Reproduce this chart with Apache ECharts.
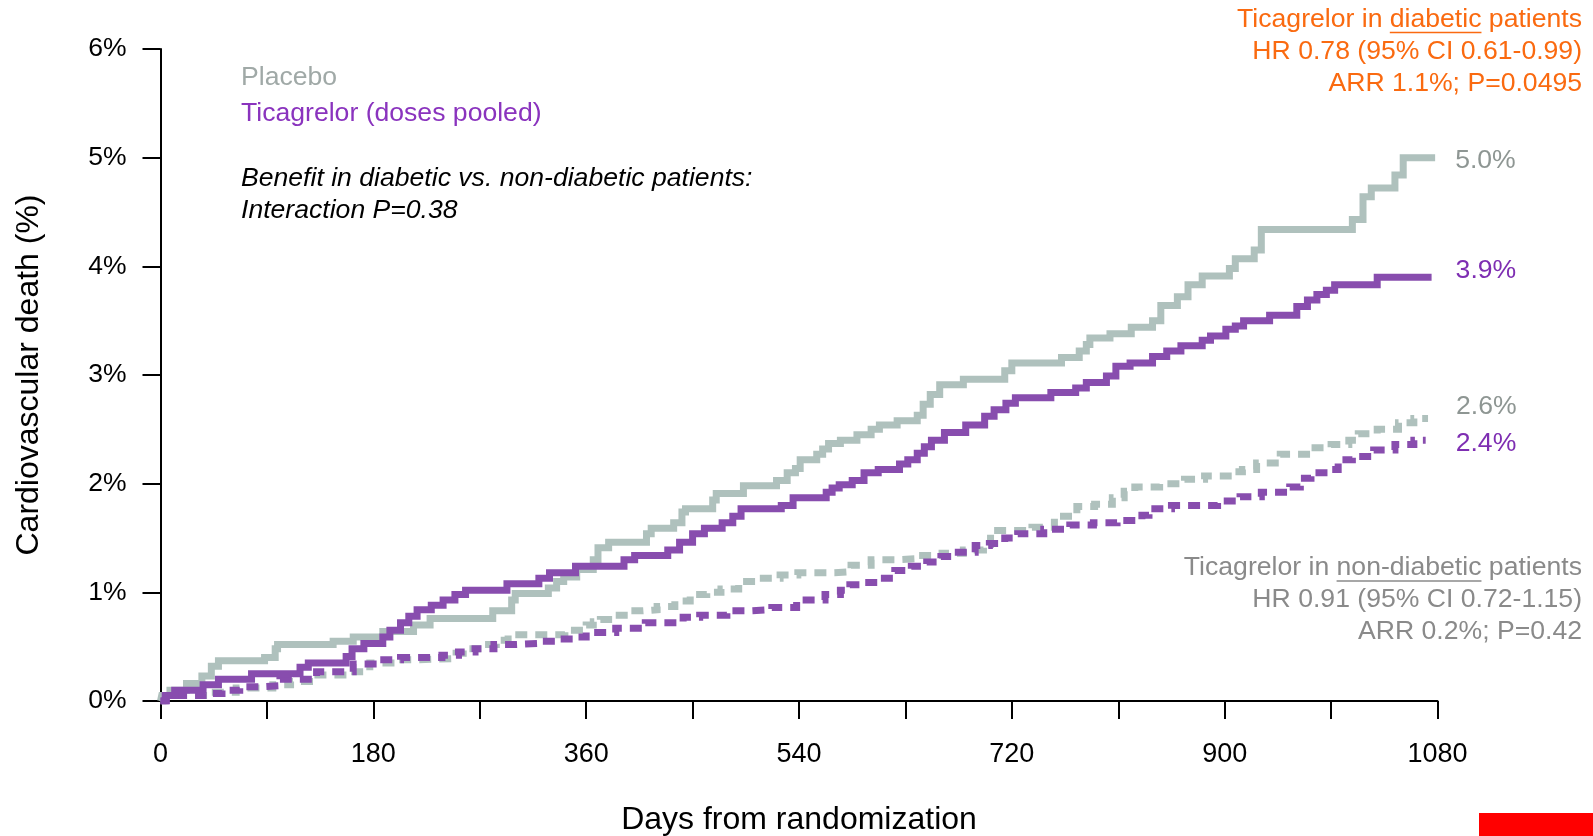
<!DOCTYPE html>
<html>
<head>
<meta charset="utf-8">
<script src="https://cdn.jsdelivr.net/npm/echarts@6/dist/echarts.min.js"></script>
<style>
  html, body { margin: 0; padding: 0; background: #ffffff; }
  #chart { width: 1593px; height: 836px; }
</style>
</head>
<body>
<div id="chart"></div>
<script>
// Cumulative cardiovascular death (%) by days from randomization, step points [day, %]
const placeboDiabetic = [[0,0],[1,0.05],[8,0.10],[22,0.16],[35,0.23],[43,0.32],[49,0.37],[88,0.40],[97,0.48],[99,0.52],[146,0.55],[163,0.59],[188,0.64],[214,0.70],[228,0.76],[281,0.83],[297,0.93],[300,0.99],[328,1.04],[335,1.10],[341,1.14],[352,1.21],[366,1.30],[370,1.41],[379,1.46],[411,1.54],[415,1.59],[434,1.64],[441,1.74],[444,1.77],[467,1.85],[470,1.91],[493,1.98],[521,2.03],[530,2.10],[537,2.14],[541,2.22],[555,2.27],[560,2.32],[565,2.37],[575,2.40],[589,2.45],[601,2.50],[608,2.54],[623,2.58],[640,2.63],[645,2.73],[651,2.82],[659,2.91],[679,2.96],[714,3.04],[720,3.11],[762,3.16],[777,3.22],[783,3.28],[786,3.34],[803,3.38],[821,3.44],[839,3.50],[846,3.64],[860,3.72],[869,3.83],[881,3.91],[904,3.98],[909,4.07],[925,4.15],[931,4.34],[1008,4.43],[1017,4.64],[1024,4.72],[1044,4.84],[1051,5.0],[1078,5.0]];

const ticagrelorDiabetic = [[0,0],[4,0.05],[12,0.10],[36,0.15],[49,0.20],[77,0.25],[118,0.31],[125,0.35],[157,0.41],[162,0.48],[172,0.53],[188,0.59],[194,0.65],[203,0.72],[210,0.78],[217,0.84],[229,0.88],[239,0.93],[249,0.98],[258,1.02],[293,1.08],[320,1.13],[329,1.18],[351,1.24],[392,1.30],[401,1.34],[429,1.39],[439,1.46],[450,1.54],[460,1.59],[475,1.64],[484,1.70],[491,1.77],[525,1.80],[535,1.87],[563,1.92],[568,1.96],[574,1.99],[585,2.03],[595,2.10],[607,2.13],[625,2.18],[632,2.22],[640,2.28],[646,2.34],[652,2.40],[663,2.47],[681,2.54],[697,2.62],[705,2.68],[715,2.74],[723,2.79],[753,2.84],[774,2.88],[783,2.93],[800,2.99],[808,3.08],[820,3.11],[839,3.17],[851,3.22],[863,3.27],[881,3.32],[888,3.36],[901,3.42],[909,3.45],[916,3.50],[938,3.55],[961,3.63],[970,3.69],[978,3.74],[986,3.78],[993,3.83],[1029,3.9],[1075,3.9]];

const placeboNonDiabetic = [[0,0],[2,0.05],[40,0.08],[64,0.12],[95,0.15],[110,0.18],[126,0.24],[160,0.27],[177,0.35],[200,0.38],[217,0.39],[250,0.44],[256,0.48],[273,0.52],[284,0.56],[294,0.61],[342,0.65],[360,0.70],[366,0.73],[372,0.75],[379,0.79],[396,0.83],[408,0.84],[420,0.87],[435,0.92],[448,0.98],[462,1.00],[474,1.03],[489,1.10],[506,1.13],[524,1.16],[539,1.18],[570,1.19],[584,1.25],[601,1.30],[621,1.31],[641,1.34],[661,1.36],[679,1.39],[696,1.44],[702,1.57],[737,1.60],[756,1.70],[775,1.79],[790,1.81],[805,1.87],[815,1.93],[824,1.97],[845,2.00],[866,2.04],[883,2.07],[903,2.11],[915,2.13],[927,2.19],[947,2.27],[973,2.33],[990,2.36],[1005,2.40],[1013,2.46],[1029,2.50],[1047,2.56],[1060,2.6],[1072,2.6]];

const ticagrelorNonDiabetic = [[0,0],[5,0.05],[36,0.07],[52,0.10],[67,0.13],[83,0.14],[101,0.20],[132,0.27],[163,0.34],[183,0.38],[203,0.40],[238,0.42],[252,0.45],[266,0.48],[282,0.52],[301,0.53],[320,0.55],[335,0.57],[349,0.59],[360,0.63],[385,0.67],[410,0.72],[442,0.77],[456,0.79],[479,0.83],[498,0.84],[517,0.86],[538,0.93],[562,0.98],[575,1.02],[583,1.07],[596,1.09],[609,1.13],[621,1.20],[635,1.24],[648,1.28],[660,1.33],[670,1.37],[689,1.43],[701,1.45],[714,1.50],[725,1.54],[747,1.58],[769,1.62],[789,1.64],[809,1.66],[830,1.71],[836,1.77],[855,1.80],[894,1.84],[913,1.88],[931,1.92],[955,1.97],[964,2.05],[973,2.10],[990,2.13],[996,2.22],[1008,2.25],[1026,2.31],[1044,2.36],[1060,2.4],[1070,2.4]];

// Axis ticks and labels
const xTickDays = [0, 180, 360, 540, 720, 900, 1080];
const yTickPercents = [0, 1, 2, 3, 4, 5, 6];

// Annotation texts
const legendPlacebo = 'Placebo';
const legendTicagrelor = 'Ticagrelor (doses pooled)';
const interactionLines = ['Benefit in diabetic vs. non-diabetic patients:', 'Interaction P=0.38'];
const diabeticLines = [['Ticagrelor in ', 'diabetic', ' patients'], 'HR 0.78 (95% CI 0.61-0.99)', 'ARR 1.1%; P=0.0495'];
const nonDiabeticLines = [['Ticagrelor in ', 'non-diabetic', ' patients'], 'HR 0.91 (95% CI 0.72-1.15)', 'ARR 0.2%; P=0.42'];

const FONT = '"Liberation Sans", Arial, Helvetica, sans-serif';
const TEXT_SIZE = 26.6;
const GRAY_LINE = '#AFC1BD';
const PURPLE_LINE = '#884DAE';
const GRAY_TEXT = '#8E9693';
const PURPLE_TEXT = '#7E2EB2';
const ORANGE = '#FA6A10';
const NOTE_GRAY = '#8A8A8A';

const measureCtx = document.createElement('canvas').getContext('2d');
function textWidth(str, size) {
  measureCtx.font = size + 'px ' + FONT;
  return measureCtx.measureText(str).width;
}

// Right-aligned three-line note with an underlined word in its first line
function noteBlock(lines, color, rightX, topY, lineGap, size) {
  const els = [];
  const first = lines[0];
  const full = first.join('');
  els.push({ type: 'text', x: rightX, y: topY, style: { text: full, fill: color, fontSize: size, fontFamily: FONT, align: 'right', verticalAlign: 'middle' } });
  const start = rightX - textWidth(full, size);
  const ulStart = start + textWidth(first[0], size);
  const ulEnd = ulStart + textWidth(first[1], size);
  els.push({ type: 'line', shape: { x1: ulStart, y1: topY + 13, x2: ulEnd, y2: topY + 13 }, style: { stroke: color, lineWidth: 1.6 } });
  for (let i = 1; i < lines.length; i++) {
    els.push({ type: 'text', x: rightX, y: topY + i * lineGap, style: { text: lines[i], fill: color, fontSize: size, fontFamily: FONT, align: 'right', verticalAlign: 'middle' } });
  }
  return els;
}

function kmSeries(name, data, color, dashed, labelColor, labelDistance, labelOffsetY) {
  return {
    name: name,
    type: 'line',
    step: 'end',
    data: data,
    symbol: 'none',
    silent: true,
    lineStyle: { color: color, width: 7, type: dashed ? [12, 8] : 'solid', cap: 'butt', join: 'miter' },
    endLabel: {
      show: true,
      formatter: p => p.value[1].toFixed(1) + '%',
      color: labelColor,
      fontSize: TEXT_SIZE,
      fontFamily: FONT,
      distance: labelDistance,
      offset: [0, labelOffsetY]
    }
  };
}

const chart = echarts.init(document.getElementById('chart'), null, { renderer: 'canvas' });

const option = {
  animation: false,
  backgroundColor: '#ffffff',
  grid: { left: 160.5, right: 155.5, top: 49, bottom: 135, containLabel: false, outerBoundsMode: 'none' },
  xAxis: {
    type: 'value',
    min: 0,
    max: 1080,
    interval: 90,
    name: 'Days from randomization',
    nameLocation: 'middle',
    nameGap: 103,
    nameTextStyle: { color: '#000', fontSize: 32, fontFamily: FONT },
    axisLine: { show: true, onZero: false, lineStyle: { color: '#000', width: 2 } },
    axisTick: { show: true, inside: false, length: 18, lineStyle: { color: '#000', width: 2 } },
    axisLabel: {
      margin: 40,
      color: '#000',
      fontSize: 27,
      fontFamily: FONT,
      formatter: v => (xTickDays.indexOf(v) >= 0 ? String(v) : '')
    },
    splitLine: { show: false }
  },
  yAxis: {
    type: 'value',
    min: 0,
    max: 6,
    interval: 1,
    name: 'Cardiovascular death (%)',
    nameLocation: 'middle',
    nameGap: 115,
    nameTextStyle: { color: '#000', fontSize: 32, fontFamily: FONT },
    axisLine: { show: true, lineStyle: { color: '#000', width: 2 } },
    axisTick: { show: true, inside: false, length: 18, lineStyle: { color: '#000', width: 2 } },
    axisLabel: {
      margin: 34,
      color: '#000',
      fontSize: 26.5,
      fontFamily: FONT,
      formatter: v => (yTickPercents.indexOf(v) >= 0 ? v + '%' : '')
    },
    splitLine: { show: false }
  },
  series: [
    kmSeries('Placebo, non-diabetic', placeboNonDiabetic, GRAY_LINE, true, GRAY_TEXT, 28, -12),
    kmSeries('Placebo, diabetic', placeboDiabetic, GRAY_LINE, false, GRAY_TEXT, 20, 3),
    kmSeries('Ticagrelor, non-diabetic', ticagrelorNonDiabetic, PURPLE_LINE, true, PURPLE_TEXT, 30, 3),
    kmSeries('Ticagrelor, diabetic', ticagrelorDiabetic, PURPLE_LINE, false, PURPLE_TEXT, 24, -7)
  ],
  graphic: [
    { type: 'text', x: 241, y: 78, style: { text: legendPlacebo, fill: '#A0A9A7', fontSize: TEXT_SIZE, fontFamily: FONT, align: 'left', verticalAlign: 'middle' } },
    { type: 'text', x: 241, y: 114, style: { text: legendTicagrelor, fill: '#8A33BE', fontSize: TEXT_SIZE, fontFamily: FONT, align: 'left', verticalAlign: 'middle' } },
    { type: 'text', x: 241, y: 179, style: { text: interactionLines[0], fill: '#000', fontSize: TEXT_SIZE, fontStyle: 'italic', fontFamily: FONT, align: 'left', verticalAlign: 'middle' } },
    { type: 'text', x: 241, y: 211, style: { text: interactionLines[1], fill: '#000', fontSize: TEXT_SIZE, fontStyle: 'italic', fontFamily: FONT, align: 'left', verticalAlign: 'middle' } },
    ...noteBlock(diabeticLines, ORANGE, 1582, 19.5, 32, TEXT_SIZE),
    ...noteBlock(nonDiabeticLines, NOTE_GRAY, 1582, 568, 32, TEXT_SIZE),
    { type: 'rect', shape: { x: 1479, y: 813, width: 114, height: 23 }, style: { fill: '#FF0000' } }
  ]
};

chart.setOption(option);
</script>
</body>
</html>
